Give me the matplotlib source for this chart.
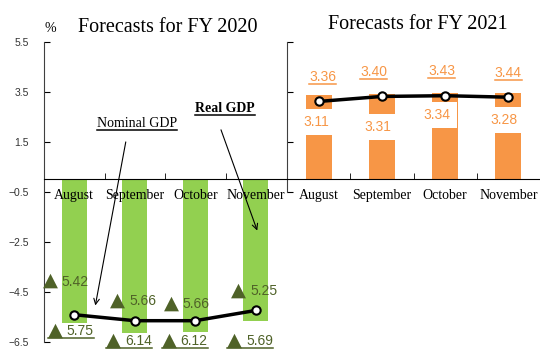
import matplotlib
matplotlib.use('Agg')
import matplotlib.pyplot as plt
from matplotlib.lines import Line2D
from matplotlib.transforms import IdentityTransform

# Datos (▲ = negativo)
meses = ['August', 'September', 'October', 'November']
real_2020 = [-5.42, -5.66, -5.66, -5.25]
nominal_2020 = [-5.75, -6.14, -6.12, -5.69]
real_2021 = [3.11, 3.31, 3.34, 3.28]
nominal_2021 = [3.36, 3.40, 3.43, 3.44]
ticks_y = [5.5, 3.5, 1.5, -0.5, -2.5, -4.5, -6.5]

# Posiciones de las etiquetas (x relativa a la categoría, y en unidades del eje)
pos_real_2020 = [(-0.12, -4.07), (0.0, -4.84), (-0.12, -4.96), (0.0, -4.44)]
pos_nom_2020 = [(-0.03, -6.04), (-0.07, -6.44), (-0.15, -6.44), (-0.07, -6.44)]
pos_real_2021 = [(-0.04, 2.28), (-0.07, 2.08), (-0.13, 2.56), (-0.07, 2.36)]
pos_nom_2021 = [(0.06, 4.08), (-0.13, 4.28), (-0.05, 4.32), (0.0, 4.24)]

# Colores y fuentes
verde = '#92D050'
oliva = '#4F6228'
naranja = '#F79646'
serif = 'Liberation Serif'
sans = ['Liberation Sans', 'DejaVu Sans']

fig = plt.figure(figsize=(5.4, 3.5), dpi=100)
ax1 = fig.add_axes([44 / 540, 8.3 / 350, 242 / 540, 300 / 350])
ax2 = fig.add_axes([287 / 540, 158.3 / 350, 253 / 540, 150 / 350])

x = list(range(len(meses)))
subrayar = []  # grupos de textos que llevan subrayado

def preparar_eje(ax, ymin, ymax, con_etiquetas):
    ax.set_xlim(-0.5, 3.5)
    ax.set_ylim(ymin, ymax)
    ax.spines['top'].set_visible(False)
    ax.spines['right'].set_visible(False)
    ax.spines['bottom'].set_position(('data', 0))
    ax.spines['bottom'].set_color('black')
    ax.spines['left'].set_color('#404040')
    ax.set_yticks([t for t in ticks_y if ymin <= t <= ymax])
    ax.tick_params(axis='y', direction='in', length=4, pad=11, labelsize=7.5,
                   labelcolor='#333333', labelleft=con_etiquetas)
    ax.set_xticks(x)
    ax.set_xticklabels(meses, family=serif, fontsize=10)
    ax.tick_params(axis='x', which='major', length=0, pad=7)
    ax.set_xticks([0.5, 1.5, 2.5], minor=True)
    ax.tick_params(axis='x', which='minor', direction='in', length=4)
    for lab in ax.get_yticklabels():
        lab.set_family(sans)

def etiqueta_triangulo(ax, xc, y, valor, con_linea):
    # triángulo grande + número, alineados por la línea base
    base = y - 0.2
    tri = ax.annotate('▲', (xc, base), xytext=(-12.2, 0), textcoords='offset points',
                      color=oliva, fontsize=14, family='DejaVu Sans',
                      ha='center', va='baseline', annotation_clip=False)
    num = ax.annotate('%.2f' % abs(valor), (xc, base), xytext=(-4, 0),
                      textcoords='offset points', color=oliva, fontsize=10,
                      family=sans, ha='left', va='baseline', annotation_clip=False)
    if con_linea:
        subrayar.append(([tri, num], oliva))

# ---- Panel FY 2020 ----
preparar_eje(ax1, -6.5, 5.5, True)
ax1.bar(x, nominal_2020, width=0.41, color=verde, zorder=1)
ax1.plot(x, real_2020, color='black', lw=2.5, marker='o', markersize=6,
         markerfacecolor='white', markeredgecolor='black', markeredgewidth=1.5, zorder=5)
for i in x:
    dx, y = pos_real_2020[i]
    etiqueta_triangulo(ax1, i + dx, y, real_2020[i], False)
    dx, y = pos_nom_2020[i]
    etiqueta_triangulo(ax1, i + dx, y, nominal_2020[i], True)

# Anotaciones con flechas
t = ax1.text(1.04, 2.24, 'Nominal GDP', family=serif, fontsize=10, ha='center', va='center')
subrayar.append(([t], 'black'))
ax1.annotate('', xy=(0.34, -5.16), xytext=(0.86, 1.6),
             arrowprops=dict(arrowstyle='->', lw=0.8, color='black'))
t = ax1.text(2.49, 2.84, 'Real GDP', family=serif, fontsize=10, fontweight='bold',
             ha='center', va='center')
subrayar.append(([t], 'black'))
ax1.annotate('', xy=(3.04, -2.16), xytext=(2.41, 2.08),
             arrowprops=dict(arrowstyle='->', lw=0.8, color='black'))

# ---- Panel FY 2021 ----
preparar_eje(ax2, -0.5, 5.5, False)
ax2.bar(x, nominal_2021, width=0.41, color=naranja, zorder=1)
ax2.plot(x, real_2021, color='black', lw=2.5, marker='o', markersize=6,
         markerfacecolor='white', markeredgecolor='black', markeredgewidth=1.5, zorder=5)
for i in x:
    dx, y = pos_real_2021[i]
    ax2.text(i + dx, y, '%.2f' % real_2021[i], color=naranja, fontsize=10, family=sans,
             ha='center', va='center', zorder=4,
             bbox=dict(boxstyle='square,pad=0.45', fc='white', ec='none'))
    dx, y = pos_nom_2021[i]
    t = ax2.text(i + dx, y, '%.2f' % nominal_2021[i], color=naranja, fontsize=10,
                 family=sans, ha='center', va='center')
    subrayar.append(([t], naranja))

# Títulos
fig.text(50 / 540, 322 / 350, '%', family=serif, fontsize=10, ha='center', va='center')
fig.text(167.5 / 540, 322 / 350, 'Forecasts for FY 2020', family=serif, fontsize=14.5,
         ha='center', va='center')
fig.text(418 / 540, 325.5 / 350, 'Forecasts for FY 2021', family=serif, fontsize=14.5,
         ha='center', va='center')

# Subrayados: se dibujan bajo cada grupo de textos ya colocado
fig.canvas.draw()
r = fig.canvas.get_renderer()
for textos, color in subrayar:
    cajas = [t.get_window_extent(r) for t in textos]
    x0 = min(b.x0 for b in cajas)
    x1 = max(b.x1 for b in cajas)
    y0 = cajas[-1].y0
    fig.add_artist(Line2D([x0, x1], [y0, y0], transform=IdentityTransform(),
                          color=color, lw=1.1))

fig.savefig('out.png', dpi=100)
